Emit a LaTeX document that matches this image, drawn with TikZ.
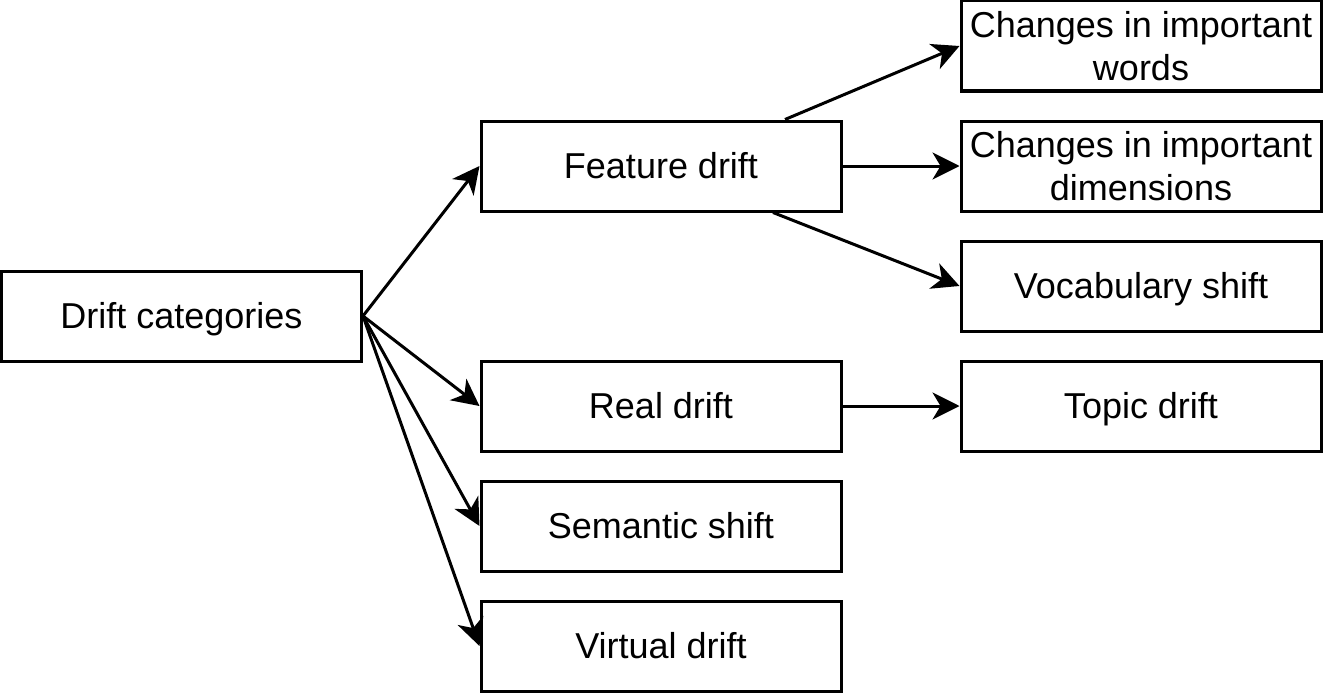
\documentclass[tikz,border=0pt]{standalone}
\usepackage{fontspec}
\setmainfont{Liberation Sans}
\usetikzlibrary{arrows.meta}
\begin{document}
\begin{tikzpicture}[x=1pt,y=-1pt,
  box/.style={draw=black, line width=3pt, fill=white, rectangle, minimum width=360pt, minimum height=90pt, inner sep=0pt, align=center, font=\fontsize{36}{43}\selectfont},
  one/.style={box, text height=32.6pt, text depth=7.6pt},
  conn/.style={line width=3pt, -{Stealth[length=27pt, width=27pt, inset=8pt]}}]
\useasboundingbox (0,0) rectangle (1323,693);
\node[one] (dc) at (181.5,316) {Drift categories};
\node[one] (feat) at (661,166) {Feature drift};
\node[one] (real) at (661,406) {Real drift};
\node[one] (sem) at (661,526) {Semantic shift};
\node[one] (virt) at (661,646) {Virtual drift};
\node[box] (words) at (1141,46) {Changes in important\\words};
\node[box] (dims) at (1141,166) {Changes in important\\dimensions};
\node[one] (vocab) at (1141,286) {Vocabulary shift};
\node[one] (topic) at (1141,406) {Topic drift};
\draw[conn] (dc.east) -- (feat.west);
\draw[conn] (dc.east) -- (real.west);
\draw[conn] (dc.east) -- (sem.west);
\draw[conn] (dc.east) -- (virt.west);
\draw[conn] ([xshift=124pt]feat.north) -- (words.west);
\draw[conn] (feat.east) -- (dims.west);
\draw[conn] ([xshift=112pt]feat.south) -- (vocab.west);
\draw[conn] (real.east) -- (topic.west);
\end{tikzpicture}
\end{document}
